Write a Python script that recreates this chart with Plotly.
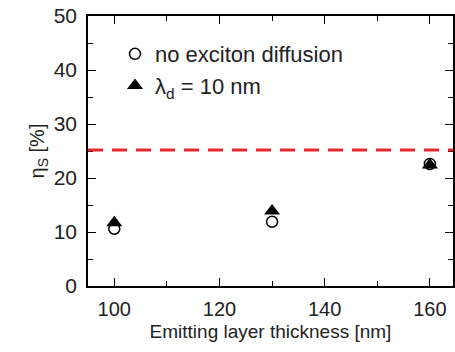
import plotly.graph_objects as go

thickness = [100, 130, 160]
eta_no_diff = [10.6, 11.9, 22.6]
eta_diff10 = [11.7, 13.9, 22.4]
ref_level = 25.2

x_ticks = [100, 120, 140, 160]
y_ticks = [0, 10, 20, 30, 40, 50]

fig = go.Figure()
fig.add_trace(go.Scatter(
    x=thickness, y=eta_no_diff, mode="markers", name="no exciton diffusion",
    marker=dict(symbol="circle-open", size=11, color="black", line=dict(width=1.5, color="black")),
))
fig.add_trace(go.Scatter(
    x=thickness, y=eta_diff10, mode="markers", name="λ<sub>d</sub> = 10 nm",
    marker=dict(symbol="triangle-up", size=14, color="black"),
))
fig.add_hline(y=ref_level, line=dict(color="#e8262a", width=3, dash="15px,9px"))

font_family = "Liberation Sans, Arial, sans-serif"
fig.update_layout(
    width=455, height=352,
    margin=dict(l=88, r=2, t=16, b=66, autoexpand=False),
    plot_bgcolor="white", paper_bgcolor="white",
    showlegend=True,
    legend=dict(x=0.074, y=0.937, xanchor="left", yanchor="top",
                bgcolor="rgba(0,0,0,0)", font=dict(family=font_family, size=22, color="#222"),
                itemsizing="trace", tracegroupgap=0),
    font=dict(family=font_family, color="#222"),
)
fig.update_xaxes(
    range=[95, 164.4], tickvals=x_ticks, ticks="inside", ticklen=8, tickwidth=1.2,
    tickcolor="black", showline=True, linecolor="black", linewidth=1.5, mirror="ticks",
    showgrid=False, zeroline=False, automargin=False, ticklabelstandoff=4,
    minor=dict(ticks="inside", ticklen=5, dtick=10, tickcolor="black", tickwidth=1.2),
    tickfont=dict(size=20, color="#222"),
    title=dict(text="Emitting layer thickness [nm]", font=dict(size=19, color="#222"), standoff=6),
)
fig.update_yaxes(
    range=[0, 50], tickvals=y_ticks, ticks="inside", ticklen=8, tickwidth=1.2,
    tickcolor="black", showline=True, linecolor="black", linewidth=1.5, mirror="ticks",
    showgrid=False, zeroline=False, automargin=False, ticklabelstandoff=5,
    minor=dict(ticks="inside", ticklen=5, dtick=5, tickcolor="black", tickwidth=1.2),
    tickfont=dict(size=21, color="#222"),
    title=dict(text="η<sub>S</sub> [%]", font=dict(size=20, color="#222"), standoff=4),
)
fig.write_html("out.html", config={"displayModeBar": False},
               post_script="document.body.style.margin='0px';")
